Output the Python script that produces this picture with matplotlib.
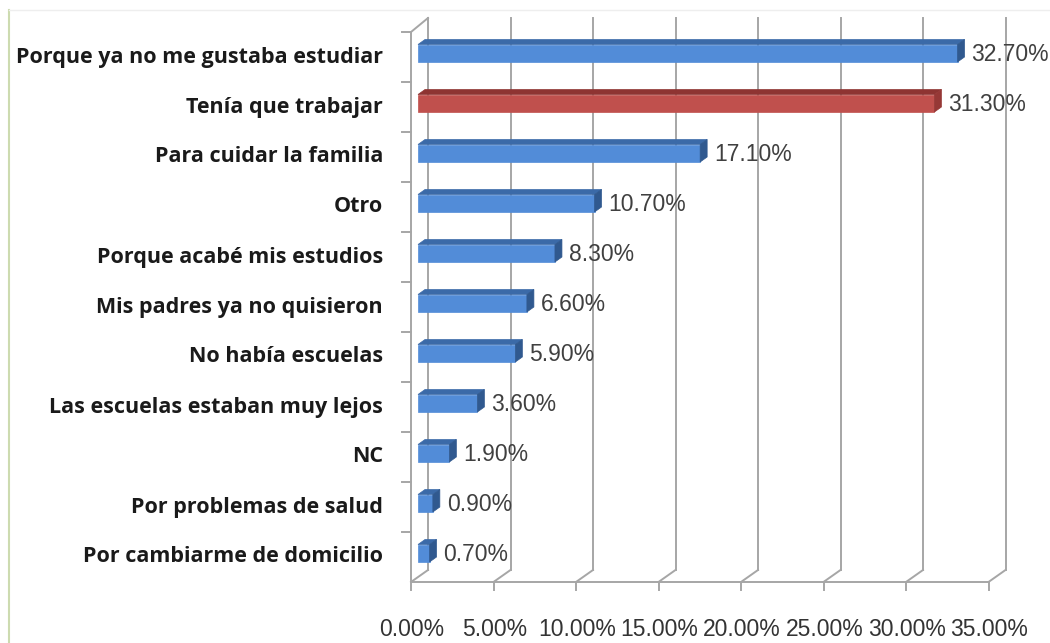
import matplotlib
matplotlib.use('Agg')
import matplotlib.pyplot as plt
from matplotlib.patches import Polygon, Rectangle
from matplotlib.lines import Line2D

categories = ['Porque ya no me gustaba estudiar', 'Tenía que trabajar',
              'Para cuidar la familia', 'Otro', 'Porque acabé mis estudios',
              'Mis padres ya no quisieron', 'No había escuelas',
              'Las escuelas estaban muy lejos', 'NC', 'Por problemas de salud',
              'Por cambiarme de domicilio']
values = [32.7, 31.3, 17.1, 10.7, 8.3, 6.6, 5.9, 3.6, 1.9, 0.9, 0.7]
highlight = 'Tenía que trabajar'
xticks = [0, 5, 10, 15, 20, 25, 30, 35]

W, H = 1050, 643
plt.rcParams['font.family'] = ['Liberation Sans', 'DejaVu Sans']

fig = plt.figure(figsize=(W / 100, H / 100), dpi=100)
# axes in pixel terms: x 0..35 -> 418..995.5, rows -> 32..582
x0px, scale = 418, 16.5
top_px, bot_px = 32, 582
ax = fig.add_axes([x0px / W, 1 - bot_px / H, 35 * scale / W, (bot_px - top_px) / H])
ax.set_xlim(0, 35)
n = len(categories)
ax.set_ylim(n - 0.5, -0.5)
ax.axis('off')

PX = 1 / scale                      # data units per pixel (x)
PY = n / (bot_px - top_px)          # data units per pixel (y, downward)

grid_c = '#a6a6a6'
lw = 1.4
back_dx, back_dy = 17 * PX, 12 * PY
front_off = -7 * PX

# back wall gridlines and floor slants
for v in xticks:
    xb = v + front_off + back_dx
    ax.add_line(Line2D([xb, xb], [-0.5 - back_dy - 2 * PY, n - 0.5 - back_dy],
                       color=grid_c, lw=lw, clip_on=False, zorder=1))
    ax.add_line(Line2D([v + front_off, xb], [n - 0.5, n - 0.5 - back_dy],
                       color=grid_c, lw=lw, clip_on=False, zorder=1))
    # front tick
    ax.add_line(Line2D([v + front_off, v + front_off], [n - 0.5, n - 0.5 + 8 * PY],
                       color=grid_c, lw=lw, clip_on=False, zorder=1))
    ax.text(v + front_off + 1 * PX, n - 0.5 + 48 * PY, f'{v:.2f}%', ha='center',
            va='center', fontsize=16.5, color='#333333')

# floor front edge
ax.add_line(Line2D([front_off, 35 + front_off], [n - 0.5, n - 0.5],
                   color=grid_c, lw=lw, clip_on=False, zorder=1))
# left wall
ax.add_line(Line2D([front_off, front_off], [-0.5, n - 0.5],
                   color=grid_c, lw=lw, clip_on=False, zorder=1))
ax.add_line(Line2D([front_off, front_off + back_dx], [-0.5, -0.5 - back_dy - 2 * PY],
                   color=grid_c, lw=lw, clip_on=False, zorder=1))
for k in range(n):
    ax.add_line(Line2D([front_off - 9 * PX, front_off], [k - 0.5, k - 0.5],
                       color=grid_c, lw=lw, clip_on=False, zorder=1))

# bars with fake 3D faces
dx, dy = 7 * PX, 5 * PY
for i, (cat, val) in enumerate(zip(categories, values)):
    if cat == highlight:
        front, topc, side = '#c0504d', '#8e3432', '#963836'
    else:
        front, topc, side = '#528cd8', '#3b6aa8', '#30598f'
    yt = i - 0.25
    yb = i + 0.1
    ax.add_patch(Rectangle((0, yt), val, yb - yt, facecolor=front,
                           edgecolor=front, lw=0.5, zorder=3, clip_on=False))
    ax.add_patch(Polygon([(0, yt), (val, yt), (val + dx, yt - dy), (dx, yt - dy)],
                         closed=True, facecolor=topc, edgecolor=topc, lw=0.5,
                         zorder=3, clip_on=False))
    ax.add_patch(Polygon([(val, yt), (val + dx, yt - dy), (val + dx, yb - dy), (val, yb)],
                         closed=True, facecolor=side, edgecolor=side, lw=0.5,
                         zorder=3, clip_on=False))
    ax.text(val + dx + 7 * PX, i - 0.05, f'{val:.2f}%', ha='left', va='center',
            fontsize=16.5, color='#404040', zorder=4)
    ax.text((383 - x0px) * PX, i, cat, ha='right', va='center', fontsize=15.5,
            fontweight='bold', color='#1a1a1a', family=['Open Sans', 'DejaVu Sans'])

# chart border remnants
fig.add_artist(Line2D([9 / W, 9 / W], [0, 1 - 10 / H], color='#cddbb0', lw=1.5))
fig.add_artist(Line2D([9 / W, 1], [1 - 10 / H, 1 - 10 / H], color='#eeeeee', lw=1))

fig.savefig('out.png', dpi=100)
